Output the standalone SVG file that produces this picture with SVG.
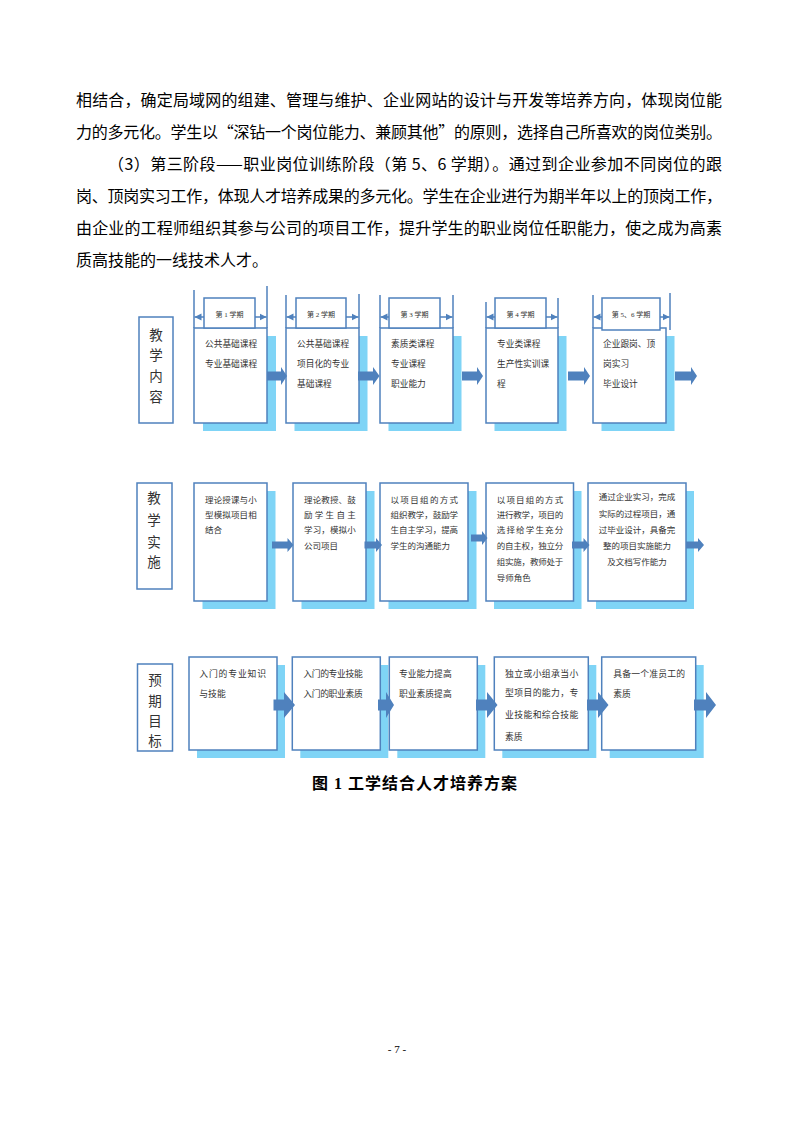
<svg xmlns="http://www.w3.org/2000/svg" width="793" height="1122" viewBox="0 0 793 1122">
<style>
.body{font-family:"Noto Sans CJK SC","Noto Sans CJK TC",sans-serif;font-size:16px;fill:#000}
.box{fill:#fff;stroke:#4f81bd;stroke-width:1.5}
.sh{fill:#7fd4f6}
.ln{stroke:#4f81bd;stroke-width:1.5;fill:none}
.ar{fill:#4f81bd}
.t{font-family:"Noto Sans CJK SC",sans-serif;fill:#333}
.r1{font-size:8.7px}
.r2{font-size:8.5px}
.r3{font-size:8.8px}
.hd{font-family:"Liberation Serif","Noto Sans CJK SC",serif;font-size:7px;fill:#333;text-anchor:middle}
.lb{font-family:"Noto Sans CJK SC",sans-serif;font-size:13.5px;fill:#333;text-anchor:middle}
.cap{font-family:"Liberation Serif","Noto Sans CJK SC",serif;font-size:16px;font-weight:bold;fill:#000}
.pg{font-family:"Liberation Serif",serif;font-size:11px;fill:#000;text-anchor:middle}
</style>
<defs>
<marker id="m" viewBox="0 0 10 10" refX="10" refY="5" markerWidth="7" markerHeight="8" markerUnits="userSpaceOnUse" orient="auto"><path d="M0,0L10,5L0,10z" fill="#4f81bd"/></marker>
</defs>
<rect x="0" y="0" width="793" height="1122" fill="#fff"/>

<g id="bodytext">
<text class="body" x="76" y="106" textLength="646" lengthAdjust="spacing">相结合，确定局域网的组建、管理与维护、企业网站的设计与开发等培养方向，体现岗位能</text>
<text class="body" x="76" y="138" textLength="646" lengthAdjust="spacing">力的多元化。学生以“深钻一个岗位能力、兼顾其他”的原则，选择自己所喜欢的岗位类别。</text>
<text class="body" x="108" y="170" textLength="614" lengthAdjust="spacing">（3）第三阶段——职业岗位训练阶段（第 5、6 学期）。通过到企业参加不同岗位的跟</text>
<text class="body" x="76" y="202" textLength="646" lengthAdjust="spacing">岗、顶岗实习工作，体现人才培养成果的多元化。学生在企业进行为期半年以上的顶岗工作，</text>
<text class="body" x="76" y="234" textLength="646" lengthAdjust="spacing">由企业的工程师组织其参与公司的项目工作，提升学生的职业岗位任职能力，使之成为高素</text>
<text class="body" x="76" y="266">质高技能的一线技术人才。</text>
</g>

<!-- Row 1 -->
<g id="label1">
<rect class="box" x="139" y="317" width="34" height="106"/>
<text class="lb" x="156" y="340">教</text>
<text class="lb" x="156" y="359.5">学</text>
<text class="lb" x="156" y="380.5">内</text>
<text class="lb" x="156" y="401.5">容</text>
</g>
<g id="c1">
<rect class="sh" x="203" y="336" width="73" height="95"/>
<rect class="box" x="194" y="328" width="73" height="95"/>
<line class="ln" x1="194" y1="290" x2="194" y2="328"/>
<line class="ln" x1="267" y1="286" x2="267" y2="328"/>
<rect class="box" x="204" y="298" width="51" height="30"/>
<line class="ln" x1="204" y1="317" x2="194.5" y2="317" marker-end="url(#m)"/>
<line class="ln" x1="255" y1="317" x2="266.5" y2="317" marker-end="url(#m)"/>
<text class="hd" x="229.5" y="316.5">第 1 学期</text>
<text class="t r1" x="205" y="347.3">公共基础课程</text>
<text class="t r1" x="205" y="367.3">专业基础课程</text>
</g>
<g id="c2">
<rect class="sh" x="294.5" y="336" width="73" height="95"/>
<rect class="box" x="286" y="328" width="73" height="95"/>
<line class="ln" x1="286" y1="295" x2="286" y2="328"/>
<line class="ln" x1="359" y1="294" x2="359" y2="328"/>
<rect class="box" x="296" y="298" width="50" height="30"/>
<line class="ln" x1="296" y1="317" x2="286.5" y2="317" marker-end="url(#m)"/>
<line class="ln" x1="346" y1="317" x2="358.5" y2="317" marker-end="url(#m)"/>
<text class="hd" x="321" y="316.5">第 2 学期</text>
<text class="t r1" x="297" y="347.3">公共基础课程</text>
<text class="t r1" x="297" y="367.3">项目化的专业</text>
<text class="t r1" x="297" y="387.3">基础课程</text>
</g>
<g id="c3">
<rect class="sh" x="388.5" y="336" width="73" height="95"/>
<rect class="box" x="380" y="328" width="73" height="95"/>
<line class="ln" x1="380" y1="295" x2="380" y2="328"/>
<line class="ln" x1="453" y1="295" x2="453" y2="328"/>
<rect class="box" x="389" y="298" width="51" height="30"/>
<line class="ln" x1="389" y1="317" x2="380.5" y2="317" marker-end="url(#m)"/>
<line class="ln" x1="440" y1="317" x2="452.5" y2="317" marker-end="url(#m)"/>
<text class="hd" x="414.5" y="316.5">第 3 学期</text>
<text class="t r1" x="391" y="347.3">素质类课程</text>
<text class="t r1" x="391" y="367.3">专业课程</text>
<text class="t r1" x="391" y="387.3">职业能力</text>
</g>
<g id="c4">
<rect class="sh" x="494.5" y="336" width="72" height="95"/>
<rect class="box" x="486" y="328" width="72" height="95"/>
<line class="ln" x1="486" y1="302" x2="486" y2="328"/>
<line class="ln" x1="558" y1="298" x2="558" y2="328"/>
<rect class="box" x="495" y="298" width="51" height="30"/>
<line class="ln" x1="495" y1="317" x2="486.5" y2="317" marker-end="url(#m)"/>
<line class="ln" x1="546" y1="317" x2="557.5" y2="317" marker-end="url(#m)"/>
<text class="hd" x="520.5" y="316.5">第 4 学期</text>
<text class="t r1" x="497" y="347.3">专业类课程</text>
<text class="t r1" x="497" y="367.3">生产性实训课</text>
<text class="t r1" x="497" y="387.3">程</text>
</g>
<g id="c5">
<rect class="sh" x="601.5" y="336" width="73" height="95"/>
<rect class="box" x="593" y="328" width="73" height="95"/>
<line class="ln" x1="593" y1="295" x2="593" y2="328"/>
<line class="ln" x1="670" y1="293" x2="670" y2="330"/>
<rect class="box" x="602" y="298" width="58" height="32"/>
<line class="ln" x1="602" y1="317" x2="593.5" y2="317" marker-end="url(#m)"/>
<line class="ln" x1="660" y1="317" x2="669.5" y2="317" marker-end="url(#m)"/>
<text class="hd" x="631" y="316.5">第 5、6 学期</text>
<text class="t r1" x="603" y="347.3">企业跟岗、顶</text>
<text class="t r1" x="603" y="367.3">岗实习</text>
<text class="t r1" x="603" y="387.3">毕业设计</text>
</g>

<!-- Row 2 -->
<g id="label2">
<rect class="box" x="137" y="483" width="35" height="106"/>
<text class="lb" x="154" y="503.3">教</text>
<text class="lb" x="154" y="525.3">学</text>
<text class="lb" x="154" y="547">实</text>
<text class="lb" x="154" y="567">施</text>
</g>
<g id="s1">
<rect class="sh" x="202.5" y="491" width="73" height="118"/>
<rect class="box" x="194" y="483" width="73" height="118"/>
<text class="t r2" x="205" y="502.5" textLength="51.7" lengthAdjust="spacing">理论授课与小</text>
<text class="t r2" x="205" y="517.7" textLength="51.7" lengthAdjust="spacing">型模拟项目相</text>
<text class="t r2" x="205" y="532.9">结合</text>
</g>
<g id="s2">
<rect class="sh" x="301.5" y="491" width="73" height="118"/>
<rect class="box" x="293" y="483" width="73" height="118"/>
<text class="t r2" x="304" y="502.5" textLength="51.7" lengthAdjust="spacing">理论教授、鼓</text>
<text class="t r2" x="304" y="518" textLength="51.7" lengthAdjust="spacing">励学生自主</text>
<text class="t r2" x="304" y="533.2" textLength="51.7" lengthAdjust="spacing">学习，模拟小</text>
<text class="t r2" x="304" y="549">公司项目</text>
</g>
<g id="s3">
<rect class="sh" x="388.5" y="491" width="88" height="118"/>
<rect class="box" x="380" y="483" width="88" height="118"/>
<text class="t r2" x="390.5" y="502.5" textLength="67.6" lengthAdjust="spacing">以项目组的方式</text>
<text class="t r2" x="390.5" y="517.5" textLength="67.6" lengthAdjust="spacing">组织教学，鼓励学</text>
<text class="t r2" x="390.5" y="533.2" textLength="67.6" lengthAdjust="spacing">生自主学习，提高</text>
<text class="t r2" x="390.5" y="549.2">学生的沟通能力</text>
</g>
<g id="s4">
<rect class="sh" x="494" y="491" width="87.5" height="118"/>
<rect class="box" x="486" y="483" width="87.5" height="118"/>
<text class="t r2" x="496.7" y="502.5" textLength="66.6" lengthAdjust="spacing">以项目组的方式</text>
<text class="t r2" x="496.7" y="517.9" textLength="66.6" lengthAdjust="spacing">进行教学，项目的</text>
<text class="t r2" x="496.7" y="533.2" textLength="66.6" lengthAdjust="spacing">选择给学生充分</text>
<text class="t r2" x="496.7" y="549.2" textLength="66.6" lengthAdjust="spacing">的自主权，独立分</text>
<text class="t r2" x="496.7" y="564.9" textLength="66.6" lengthAdjust="spacing">组实施，教师处于</text>
<text class="t r2" x="496.7" y="581.2">导师角色</text>
</g>
<g id="s5">
<rect class="sh" x="596" y="491" width="98" height="118"/>
<rect class="box" x="588" y="483" width="98" height="118"/>
<text class="t r2" x="637" y="499.9" text-anchor="middle">通过企业实习，完成</text>
<text class="t r2" x="637" y="516.5" text-anchor="middle">实际的过程项目，通</text>
<text class="t r2" x="637" y="533.2" text-anchor="middle">过毕业设计，具备完</text>
<text class="t r2" x="637" y="549.2" text-anchor="middle">整的项目实施能力</text>
<text class="t r2" x="637" y="564.9" text-anchor="middle">及文档写作能力</text>
</g>

<!-- Row 3 -->
<g id="label3">
<rect class="box" x="137.5" y="664" width="35" height="87"/>
<text class="lb" x="155" y="685">预</text>
<text class="lb" x="155" y="706">期</text>
<text class="lb" x="155" y="726">目</text>
<text class="lb" x="155" y="746">标</text>
</g>
<g id="g1">
<rect class="sh" x="197" y="665" width="88" height="93"/>
<rect class="box" x="189" y="657" width="88" height="93"/>
<text class="t r3" x="199.3" y="676.7" textLength="66.7" lengthAdjust="spacing">入门的专业知识</text>
<text class="t r3" x="199.3" y="696.7">与技能</text>
</g>
<g id="g2">
<rect class="sh" x="300.3" y="665" width="88" height="93"/>
<rect class="box" x="292.3" y="657" width="88" height="93"/>
<text class="t r3" x="303.3" y="676.7" textLength="59.4" lengthAdjust="spacing">入门的专业技能</text>
<text class="t r3" x="303.3" y="696.7" textLength="59.4" lengthAdjust="spacing">入门的职业素质</text>
</g>
<g id="g3">
<rect class="sh" x="397.3" y="665" width="88" height="93"/>
<rect class="box" x="389.3" y="657" width="88" height="93"/>
<text class="t r3" x="399" y="676.7" textLength="52.7" lengthAdjust="spacing">专业能力提高</text>
<text class="t r3" x="399" y="696.7" textLength="52.7" lengthAdjust="spacing">职业素质提高</text>
</g>
<g id="g4">
<rect class="sh" x="502.3" y="665" width="94" height="93"/>
<rect class="box" x="494.3" y="657" width="94" height="93"/>
<text class="t r3" x="505" y="676.7" textLength="73.3" lengthAdjust="spacing">独立或小组承当小</text>
<text class="t r3" x="505" y="696" textLength="73.3" lengthAdjust="spacing">型项目的能力，专</text>
<text class="t r3" x="505" y="718.4" textLength="73.3" lengthAdjust="spacing">业技能和综合技能</text>
<text class="t r3" x="505" y="740">素质</text>
</g>
<g id="g5">
<rect class="sh" x="609.7" y="665" width="94" height="93"/>
<rect class="box" x="601.7" y="657" width="94" height="93"/>
<text class="t r3" x="613.3" y="676.7" textLength="71.7" lengthAdjust="spacing">具备一个准员工的</text>
<text class="t r3" x="613.3" y="696.7">素质</text>
</g>

<g id="connectors">
<path class="ar" d="M267,371.5L281,371.5L281,367L287,376L281,385L281,380.5L267,380.5Z"/>
<path class="ar" d="M358,371.5L373,371.5L373,367L379.5,376L373,385L373,380.5L358,380.5Z"/>
<path class="ar" d="M462,371.5L477,371.5L477,367L483,376L477,385L477,380.5L462,380.5Z"/>
<path class="ar" d="M568,371.5L584,371.5L584,367L590,376L584,385L584,380.5L568,380.5Z"/>
<path class="ar" d="M675,371.5L691,371.5L691,367L697,376L691,385L691,380.5L675,380.5Z"/>

<path class="ar" d="M272,541.5L287.5,541.5L287.5,538L293.5,545L287.5,552L287.5,548.5L272,548.5Z"/>
<path class="ar" d="M364.5,541.5L376,541.5L376,538L382,545L376,552L376,548.5L364.5,548.5Z"/>
<path class="ar" d="M471,534.5L482,534.5L482,531L487.5,538L482,545L482,541.5L471,541.5Z"/>
<path class="ar" d="M572,541.5L583.5,541.5L583.5,538L589.5,545L583.5,552L583.5,548.5L572,548.5Z"/>
<path class="ar" d="M686,541.5L698,541.5L698,538L704,545L698,552L698,548.5L686,548.5Z"/>

<path class="ar" d="M273.5,699.5L284,699.5L284,692L295,705L284,718L284,710.5L273.5,710.5Z"/>
<path class="ar" d="M378,699.5L386,699.5L386,692L394,705L386,718L386,710.5L378,710.5Z"/>
<path class="ar" d="M476,699.5L487,699.5L487,692L497.5,705L487,718L487,710.5L476,710.5Z"/>
<path class="ar" d="M587,699.5L598,699.5L598,692L608.5,705L598,718L598,710.5L587,710.5Z"/>
<path class="ar" d="M694,699.5L706,699.5L706,692L716,705L706,718L706,710.5L694,710.5Z"/>
</g>

<text class="cap" x="312" y="789" textLength="205" lengthAdjust="spacing">图 1  工学结合人才培养方案</text>
<text class="pg" x="397" y="1053">- 7 -</text>
</svg>
